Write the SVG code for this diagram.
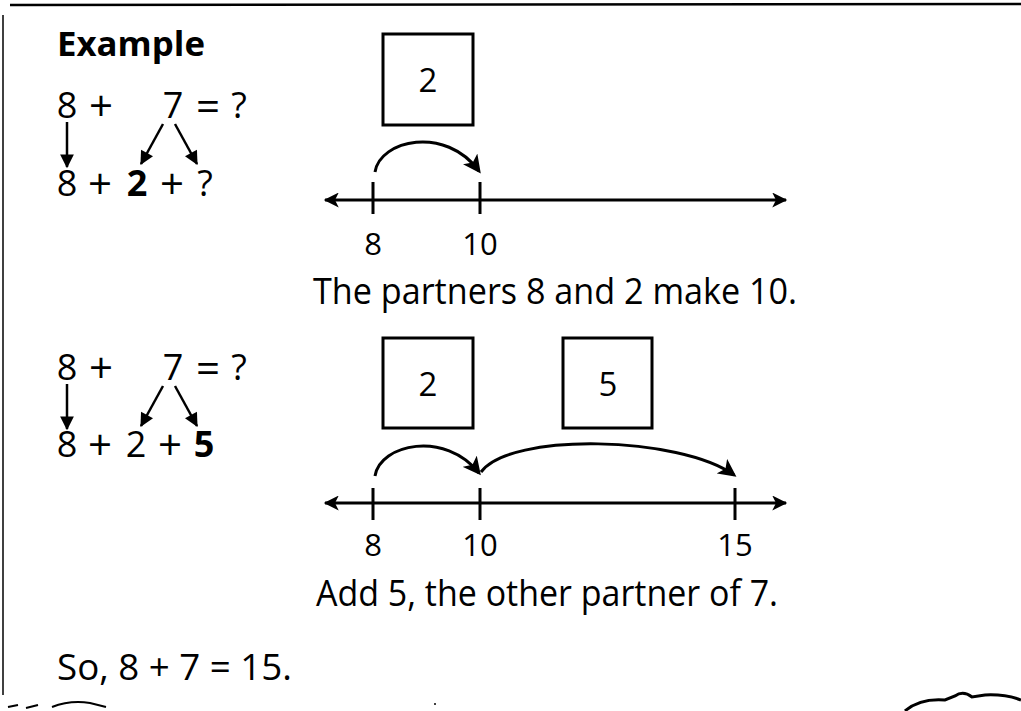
<svg xmlns="http://www.w3.org/2000/svg" width="1021" height="711" viewBox="0 0 1021 711">
<style>
text{font-family:"Open Sans","Noto Sans","Liberation Sans",sans-serif;fill:#000}
.eq{font-size:36px;text-anchor:middle}
.op{font-size:42px}
.b{font-weight:bold}
.lbl{font-size:31px;text-anchor:middle}
.bx{font-size:33px;text-anchor:middle}
.cap{font-size:37px}
.box{fill:none;stroke:#000;stroke-width:3}
.ln{fill:none;stroke:#000;stroke-width:3}
.arc{fill:none;stroke:#000;stroke-width:3;marker-end:url(#ah)}
.dn{fill:none;stroke:#000;stroke-width:2.5;marker-end:url(#sh)}
.nl{fill:none;stroke:#000;stroke-width:3;marker-start:url(#nls);marker-end:url(#nle)}
</style>
<defs>
<marker id="ah" viewBox="0 0 12 12" refX="10" refY="6" markerWidth="6" markerHeight="6" orient="auto" markerUnits="strokeWidth"><path d="M0,0 L12,6 L0,12 L3,6 Z" fill="#000"/></marker>
<marker id="sh" viewBox="0 0 12 12" refX="11" refY="6" markerWidth="6" markerHeight="5.5" orient="auto" markerUnits="strokeWidth"><path d="M0,0 L12,6 L0,12 Z" fill="#000"/></marker>
<marker id="nle" viewBox="0 0 12 12" refX="11" refY="6" markerWidth="6" markerHeight="5" orient="auto" markerUnits="strokeWidth"><path d="M0,0 L12,6 L0,12 L3,6 Z" fill="#000"/></marker>
<marker id="nls" viewBox="0 0 12 12" refX="1" refY="6" markerWidth="6" markerHeight="5" orient="auto" markerUnits="strokeWidth"><path d="M12,0 L0,6 L12,12 L9,6 Z" fill="#000"/></marker>
</defs>
<rect width="1021" height="711" fill="#fff"/>
<g id="border">
<path d="M10,5 L1021,4" stroke="#000" stroke-width="2.5"/>
<path d="M3,15 L3,695" stroke="#000" stroke-width="1.5"/>
<path d="M8,707 L18,705 M26,708 L38,705 M52,707 Q70,700 90,703 L106,707" stroke="#000" stroke-width="2" fill="none"/>
<path d="M905,711 Q920,698 945,700 L955,696 Q963,690 972,697 L985,695 Q1005,694 1021,700" stroke="#000" stroke-width="3" fill="none"/>
<circle cx="435" cy="704" r="1" fill="#000"/>
</g>
<g id="title"><text x="57" y="56" class="b" font-size="34" textLength="148" lengthAdjust="spacingAndGlyphs">Example</text></g>
<g id="ex1-eq">
<text class="eq"><tspan x="67" y="118">8</tspan><tspan x="101" y="121" class="op">+</tspan><tspan x="173" y="118">7</tspan><tspan x="208" y="121" class="op">=</tspan><tspan x="239" y="118">?</tspan></text>
<text class="eq"><tspan x="67" y="196">8</tspan><tspan x="100" y="199" class="op">+</tspan><tspan x="137" y="196" font-weight="bold">2</tspan><tspan x="172" y="199" class="op">+</tspan><tspan x="205" y="196">?</tspan></text>
</g>
<g id="ex2-eq">
<text class="eq"><tspan x="67" y="380">8</tspan><tspan x="101" y="383" class="op">+</tspan><tspan x="173" y="380">7</tspan><tspan x="208" y="383" class="op">=</tspan><tspan x="239" y="380">?</tspan></text>
<text class="eq"><tspan x="67" y="457">8</tspan><tspan x="100" y="460" class="op">+</tspan><tspan x="136" y="457">2</tspan><tspan x="170" y="460" class="op">+</tspan><tspan x="204" y="457" font-weight="bold">5</tspan></text>
</g>
<g id="box1"><rect class="box" x="383" y="34" width="90" height="91"/><text x="428" y="92" class="bx">2</text></g>
<g id="box2"><rect class="box" x="383" y="338" width="90" height="90"/><text x="428" y="396" class="bx">2</text></g>
<g id="box3"><rect class="box" x="563" y="338" width="89" height="90"/><text x="608" y="396" class="bx">5</text></g>
<g id="numberline1">
<path class="nl" d="M325,200 L786,200"/>
<path class="ln" d="M373,182 L373,214 M480,182 L480,214"/>
<text class="lbl" x="373" y="255">8</text><text class="lbl" x="480" y="255">10</text>
</g>
<g id="numberline2">
<path class="nl" d="M325,503 L786,503"/>
<path class="ln" d="M373,488 L373,520 M480,488 L480,520 M735,488 L735,520"/>
<text class="lbl" x="373" y="556">8</text><text class="lbl" x="480" y="556">10</text><text class="lbl" x="735" y="556">15</text>
</g>
<g id="captions">
<text class="cap" x="313" y="304" textLength="484" lengthAdjust="spacingAndGlyphs">The partners 8 and 2 make 10.</text>
<text class="cap" x="316" y="606" textLength="462" lengthAdjust="spacingAndGlyphs">Add 5, the other partner of 7.</text>
<text class="cap" x="57" y="680" textLength="235" lengthAdjust="spacingAndGlyphs">So, 8 + 7 = 15.</text>
</g>
<g id="connectors">
<path class="dn" d="M67,122 L67,167"/>
<path class="dn" d="M163,124 L141,164"/>
<path class="dn" d="M175,124 L197,164"/>
<path class="dn" d="M67,384 L67,429"/>
<path class="dn" d="M163,386 L141,426"/>
<path class="dn" d="M175,386 L197,426"/>
<path class="arc" d="M375,172 C380,140 445,125 479,171"/>
<path class="arc" d="M375,476 C380,444 445,430 479,473"/>
<path class="arc" d="M481,472 C510,432 680,436 734,475"/>
</g>
</svg>
